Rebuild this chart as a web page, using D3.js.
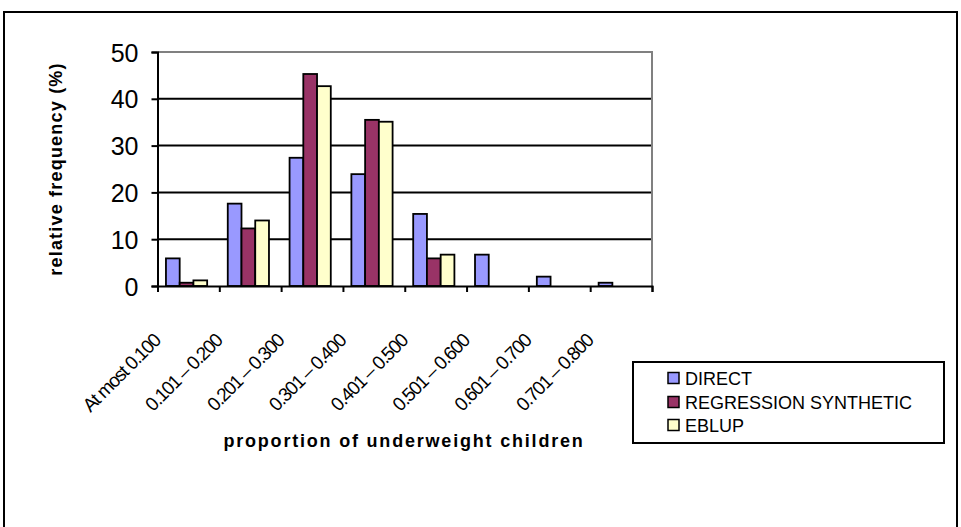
<!DOCTYPE html>
<html>
<head>
<meta charset="utf-8">
<script src="https://cdn.jsdelivr.net/npm/d3@7"></script>
<style>
  html, body { margin: 0; padding: 0; background: #fff; }
  svg { display: block; font-family: "Liberation Sans", Arial, sans-serif; }
</style>
</head>
<body>
<svg id="chart" width="961" height="527"></svg>
<script>
const categories = ["At most 0.100", "0.101 \u2013 0.200", "0.201 \u2013 0.300", "0.301 \u2013 0.400",
                    "0.401 \u2013 0.500", "0.501 \u2013 0.600", "0.601 \u2013 0.700", "0.701 \u2013 0.800"];
const seriesNames = ["DIRECT", "REGRESSION SYNTHETIC", "EBLUP"];
const directValues = [5.9, 17.6, 27.4, 23.9, 15.4, 6.7, 2.0, 0.7];
const synthValues  = [0.7, 12.3, 45.3, 35.5, 5.9, 0, 0, 0];
const eblupValues  = [1.2, 14.0, 42.7, 35.1, 6.7, 0, 0, 0];
const yTicks = [0, 10, 20, 30, 40, 50];
const seriesColors = ["#9999FF", "#993366", "#FFFFCC"];

const seriesValues = [directValues, synthValues, eblupValues];
const data = categories.map((c, i) => ({
  cat: c,
  vals: seriesNames.map((s, j) => ({ series: s, value: seriesValues[j][i], color: seriesColors[j] }))
}));

const svg = d3.select("#chart");

// outer frame
svg.append("rect").attr("x", 4).attr("y", 12).attr("width", 953).attr("height", 540)
  .attr("fill", "none").attr("stroke", "#000").attr("stroke-width", 2);

const plot = { left: 157.5, right: 652, top: 52, bottom: 286 };

const x0 = d3.scaleBand().domain(categories).range([plot.left, plot.right]).paddingInner(0).paddingOuter(0);
const x1 = d3.scaleBand().domain(seriesNames).range([0, x0.bandwidth()]).paddingInner(0).paddingOuter(0.75).align(0.41);
const y = d3.scaleLinear().domain([0, 50]).range([plot.bottom, plot.top]);

// gridlines
svg.append("g").selectAll("line").data(yTicks.filter(t => t > 0 && t < 50)).join("line")
  .attr("x1", plot.left).attr("x2", plot.right)
  .attr("y1", d => y(d)).attr("y2", d => y(d))
  .attr("stroke", "#000").attr("stroke-width", 2);

// plot border top/right gray
svg.append("path")
  .attr("d", `M${plot.left},${plot.top}H${plot.right}V${plot.bottom}`)
  .attr("fill", "none").attr("stroke", "#808080").attr("stroke-width", 2);

// bars
const groups = svg.append("g").selectAll("g").data(data).join("g")
  .attr("transform", d => `translate(${x0(d.cat)},0)`);
groups.selectAll("rect").data(d => d.vals.filter(v => v.value > 0)).join("rect")
  .attr("x", d => x1(d.series))
  .attr("width", x1.bandwidth())
  .attr("y", d => y(d.value))
  .attr("height", d => y(0) - y(d.value))
  .attr("fill", d => d.color)
  .attr("stroke", "#000").attr("stroke-width", 1.8);

// y axis
const yAxis = d3.axisLeft(y).tickValues(yTicks).tickSize(6).tickPadding(6).tickFormat(d3.format("d"));
const gy = svg.append("g").attr("transform", `translate(${plot.left},0)`).call(yAxis);
gy.select(".domain").attr("stroke", "#000").attr("stroke-width", 2);
gy.selectAll(".tick line").attr("stroke", "#000").attr("stroke-width", 2);
gy.selectAll(".tick text").attr("font-size", 25).attr("fill", "#000")
  .attr("font-family", "'Liberation Sans', Arial, sans-serif").attr("dy", "0.36em").attr("x", -19);

// x axis (ticks at category boundaries)
const xBoundary = d3.scaleLinear().domain([0, categories.length]).range([plot.left, plot.right]);
const xAxis = d3.axisBottom(xBoundary).tickValues(d3.range(categories.length + 1)).tickSize(6).tickFormat("");
const gx = svg.append("g").attr("transform", `translate(0,${plot.bottom})`).call(xAxis);
gx.select(".domain").attr("stroke", "#000").attr("stroke-width", 2);
gx.selectAll(".tick line").attr("stroke", "#000").attr("stroke-width", 2);

// rotated category labels
svg.append("g").selectAll("text").data(categories).join("text")
  .attr("transform", d => `translate(${x0(d) + 4},342) rotate(-45)`)
  .attr("text-anchor", "end")
  .attr("font-size", 19)
  .attr("letter-spacing", -1.3)
  .attr("fill", "#000")
  .text(d => d);

// axis titles
svg.append("text")
  .attr("transform", "translate(62,169) rotate(-90)")
  .attr("text-anchor", "middle")
  .attr("font-size", 18).attr("font-weight", "bold")
  .attr("letter-spacing", 1.2)
  .text("relative frequency (%)");

svg.append("text")
  .attr("x", 404).attr("y", 447)
  .attr("text-anchor", "middle")
  .attr("font-size", 18).attr("font-weight", "bold")
  .attr("letter-spacing", 1.8)
  .text("proportion of underweight children");

// legend
const lg = svg.append("g");
lg.append("rect").attr("x", 633).attr("y", 362).attr("width", 311).attr("height", 81)
  .attr("fill", "#fff").attr("stroke", "#000").attr("stroke-width", 2);
const rowsY = [378, 402, 425];
const items = lg.selectAll("g.item").data(seriesNames).join("g").attr("class", "item")
  .attr("transform", (d, i) => `translate(668,${rowsY[i]})`);
items.append("rect").attr("x", 0).attr("y", -5.5).attr("width", 11).attr("height", 11)
  .attr("fill", (d, i) => seriesColors[i]).attr("stroke", "#000").attr("stroke-width", 1.5);
items.append("text").attr("x", 17).attr("y", 7)
  .attr("font-size", 18).attr("letter-spacing", 0).attr("fill", "#000")
  .text(d => d);
</script>
</body>
</html>
